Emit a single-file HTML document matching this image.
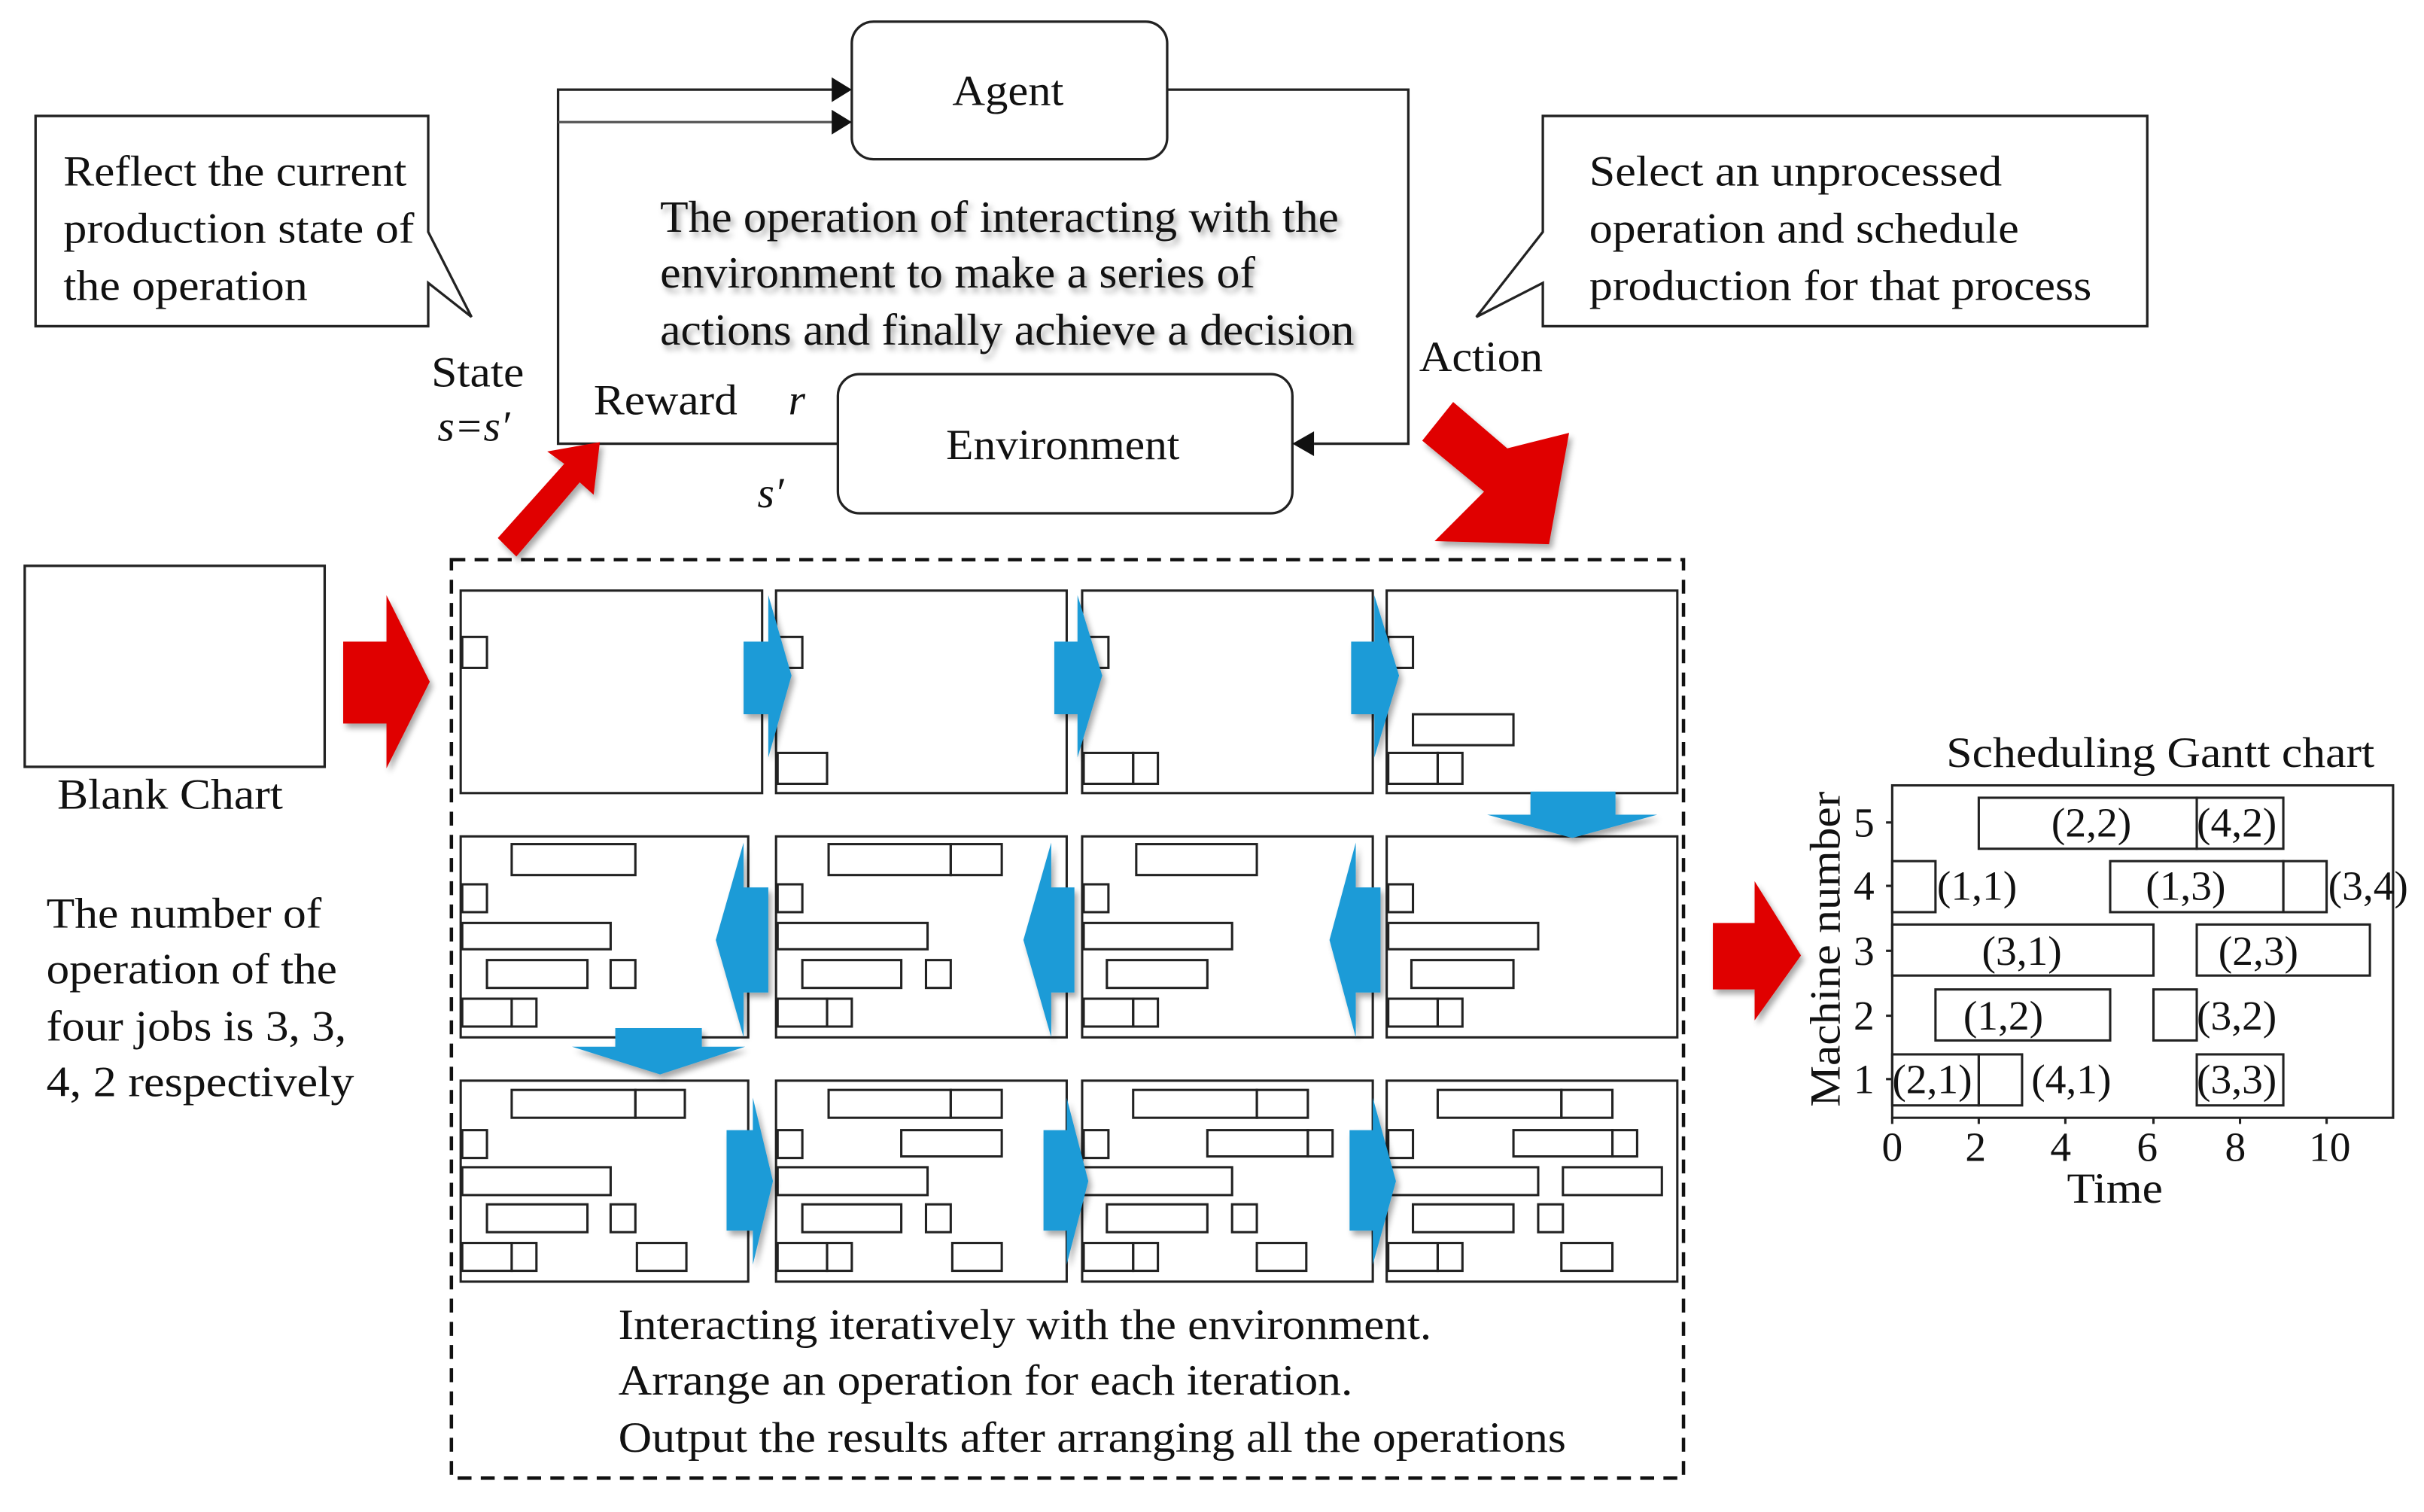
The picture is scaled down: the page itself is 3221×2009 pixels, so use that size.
<!DOCTYPE html>
<html><head><meta charset="utf-8"><style>
html,body{margin:0;padding:0;background:#fff}
svg{display:block}
text{font-family:"Liberation Serif",serif;fill:#111}
</style></head><body>
<svg width="3221" height="2009" viewBox="0 0 1568 978" preserveAspectRatio="none" xmlns="http://www.w3.org/2000/svg">
<defs>
<filter id="sh" x="-20%" y="-20%" width="140%" height="140%"><feGaussianBlur in="SourceAlpha" stdDeviation="2"/><feOffset dx="2" dy="3"/><feComponentTransfer><feFuncA type="linear" slope="0.35"/></feComponentTransfer><feMerge><feMergeNode/><feMergeNode in="SourceGraphic"/></feMerge></filter>
</defs>
<g fill="none" stroke="#222" stroke-width="1.6">
<path d="M23,75 H277 V150 L305,205 L277,183 V211 H23 Z" fill="#fff"/>
<path d="M998,75 H1389 V211 H998 V183 L955,205 L998,150 Z" fill="#fff"/>
<rect x="551" y="14" width="204" height="89" rx="14"/>
<rect x="542" y="242" width="294" height="90" rx="14"/>
<path d="M542,287 H361 V58 H540"/>
<path d="M361,79 H540" stroke="#555"/>
<path d="M755,58 H911 V287 H850"/>
</g>
<polygon points="538,50 551,58 538,66" fill="#111"/>
<polygon points="538,71 551,79 538,87" fill="#111"/>
<polygon points="850,279 836,287 850,295" fill="#111"/>
<g font-size="28" lengthAdjust="spacingAndGlyphs">
<text x="616" y="68" textLength="72" lengthAdjust="spacingAndGlyphs">Agent</text>
<text x="612" y="297" textLength="151" lengthAdjust="spacingAndGlyphs">Environment</text>
</g>
<g font-size="29" style="filter:drop-shadow(2px 3px 2px rgba(0,0,0,0.35))">
<text x="427" y="150" textLength="439" lengthAdjust="spacingAndGlyphs">The operation of interacting with the</text>
<text x="427" y="186" textLength="385" lengthAdjust="spacingAndGlyphs">environment  to make a series of</text>
<text x="427" y="223" textLength="449" lengthAdjust="spacingAndGlyphs">actions and finally achieve a decision</text>
</g>
<g font-size="28">
<text x="41" y="120" textLength="222" lengthAdjust="spacingAndGlyphs">Reflect the current</text>
<text x="41" y="157" textLength="227" lengthAdjust="spacingAndGlyphs">production state of</text>
<text x="41" y="194" textLength="158" lengthAdjust="spacingAndGlyphs">the operation</text>
<text x="1028" y="120" textLength="267" lengthAdjust="spacingAndGlyphs">Select an unprocessed</text>
<text x="1028" y="157" textLength="278" lengthAdjust="spacingAndGlyphs">operation and schedule</text>
<text x="1028" y="194" textLength="325" lengthAdjust="spacingAndGlyphs">production for that process</text>
<text x="279" y="250" textLength="60" lengthAdjust="spacingAndGlyphs">State</text>
<text x="283" y="285" font-style="italic">s=s′</text>
<text x="384" y="268" textLength="93" lengthAdjust="spacingAndGlyphs">Reward</text>
<text x="510" y="268" font-style="italic">r</text>
<text x="490" y="328" font-style="italic">s′</text>
<text x="918" y="240" textLength="80" lengthAdjust="spacingAndGlyphs">Action</text>
<text x="37" y="523" textLength="146" lengthAdjust="spacingAndGlyphs">Blank Chart</text>
<text x="30" y="600" textLength="178" lengthAdjust="spacingAndGlyphs">The number of</text>
<text x="30" y="636" textLength="188" lengthAdjust="spacingAndGlyphs">operation of the</text>
<text x="30" y="673" textLength="194" lengthAdjust="spacingAndGlyphs">four jobs is 3, 3,</text>
<text x="30" y="709" textLength="199" lengthAdjust="spacingAndGlyphs">4, 2 respectively</text>
<text x="400" y="866" textLength="526" lengthAdjust="spacingAndGlyphs">Interacting  iteratively with the  environment.</text>
<text x="400" y="902" textLength="475" lengthAdjust="spacingAndGlyphs">Arrange an operation for each iteration.</text>
<text x="400" y="939" textLength="613" lengthAdjust="spacingAndGlyphs">Output the results after arranging  all the operations</text>
<text x="1259" y="496" textLength="277" lengthAdjust="spacingAndGlyphs">Scheduling  Gantt chart</text>
<text x="1337" y="778" textLength="62" lengthAdjust="spacingAndGlyphs">Time</text>
<text transform="translate(1190,716) rotate(-90)" textLength="204" lengthAdjust="spacingAndGlyphs">Machine number</text>
</g>
<g fill="#e00000" filter="url(#sh)">
<polygon points="222,415 250,415 250,385 278,441 250,497 250,468 222,468"/>
<polygon points="1108,597 1135,597 1135,570 1165,618 1135,660 1135,640 1108,640"/>
<polygon points="322,348 365,300 354,292 388,286 384,320 375,312 334,360"/>
<polygon points="920,285 940,260 975,290 1015,280 1002,352 928,350 960,318"/>
</g>
<rect x="16" y="366" width="194" height="130" fill="none" stroke="#222" stroke-width="1.6"/>
<rect x="292" y="362" width="797" height="594" fill="none" stroke="#111" stroke-width="2.2" stroke-dasharray="9,6"/>
<g fill="none" stroke="#222" stroke-width="1.5">
<rect x="298" y="382" width="195" height="131"/>
<rect x="502" y="382" width="188" height="131"/>
<rect x="700" y="382" width="188" height="131"/>
<rect x="897" y="382" width="188" height="131"/>
<rect x="298" y="541" width="186" height="130"/>
<rect x="502" y="541" width="188" height="130"/>
<rect x="700" y="541" width="188" height="130"/>
<rect x="897" y="541" width="188" height="130"/>
<rect x="298" y="699" width="186" height="130"/>
<rect x="502" y="699" width="188" height="130"/>
<rect x="700" y="699" width="188" height="130"/>
<rect x="897" y="699" width="188" height="130"/>
<rect x="299" y="412" width="16" height="20"/>
<rect x="503" y="412" width="16" height="20"/><rect x="503" y="487" width="32" height="20"/>
<rect x="701" y="412" width="16" height="20"/><rect x="701" y="487" width="32" height="20"/><rect x="733" y="487" width="16" height="20"/>
<rect x="898" y="412" width="16" height="20"/><rect x="898" y="487" width="32" height="20"/><rect x="930" y="487" width="16" height="20"/><rect x="914" y="462" width="65" height="20"/>
<rect x="331" y="546" width="80" height="20"/><rect x="299" y="572" width="16" height="18"/><rect x="299" y="597" width="96" height="17"/><rect x="315" y="621" width="65" height="18"/><rect x="395" y="621" width="16" height="18"/><rect x="299" y="646" width="32" height="18"/><rect x="331" y="646" width="16" height="18"/>
<rect x="536" y="546" width="79" height="20"/><rect x="615" y="546" width="33" height="20"/><rect x="503" y="572" width="16" height="18"/><rect x="503" y="597" width="97" height="17"/><rect x="519" y="621" width="64" height="18"/><rect x="599" y="621" width="16" height="18"/><rect x="503" y="646" width="32" height="18"/><rect x="535" y="646" width="16" height="18"/>
<rect x="735" y="546" width="78" height="20"/><rect x="701" y="572" width="16" height="18"/><rect x="701" y="597" width="96" height="17"/><rect x="716" y="621" width="65" height="18"/><rect x="701" y="646" width="32" height="18"/><rect x="733" y="646" width="16" height="18"/>
<rect x="898" y="572" width="16" height="18"/><rect x="898" y="597" width="97" height="17"/><rect x="913" y="621" width="66" height="18"/><rect x="898" y="646" width="32" height="18"/><rect x="930" y="646" width="16" height="18"/>
<rect x="331" y="705" width="80" height="18"/><rect x="411" y="705" width="32" height="18"/><rect x="299" y="731" width="16" height="18"/><rect x="299" y="755" width="96" height="18"/><rect x="315" y="779" width="65" height="18"/><rect x="395" y="779" width="16" height="18"/><rect x="299" y="804" width="32" height="18"/><rect x="331" y="804" width="16" height="18"/><rect x="412" y="804" width="32" height="18"/>
<rect x="536" y="705" width="79" height="18"/><rect x="615" y="705" width="33" height="18"/><rect x="503" y="731" width="16" height="18"/><rect x="583" y="731" width="65" height="17"/><rect x="503" y="755" width="97" height="18"/><rect x="519" y="779" width="64" height="18"/><rect x="599" y="779" width="16" height="18"/><rect x="503" y="804" width="32" height="18"/><rect x="535" y="804" width="16" height="18"/><rect x="616" y="804" width="32" height="18"/>
<rect x="733" y="705" width="80" height="18"/><rect x="813" y="705" width="33" height="18"/><rect x="701" y="731" width="16" height="18"/><rect x="781" y="731" width="65" height="17"/><rect x="846" y="731" width="16" height="17"/><rect x="701" y="755" width="96" height="18"/><rect x="716" y="779" width="65" height="18"/><rect x="797" y="779" width="16" height="18"/><rect x="701" y="804" width="32" height="18"/><rect x="733" y="804" width="16" height="18"/><rect x="813" y="804" width="32" height="18"/>
<rect x="930" y="705" width="80" height="18"/><rect x="1010" y="705" width="33" height="18"/><rect x="898" y="731" width="16" height="18"/><rect x="979" y="731" width="64" height="17"/><rect x="1043" y="731" width="16" height="17"/><rect x="898" y="755" width="97" height="18"/><rect x="1011" y="755" width="64" height="18"/><rect x="914" y="779" width="65" height="18"/><rect x="995" y="779" width="16" height="18"/><rect x="898" y="804" width="32" height="18"/><rect x="930" y="804" width="16" height="18"/><rect x="1010" y="804" width="33" height="18"/>
</g>
<g fill="#1e9bd7" filter="url(#sh)">
<polygon points="481,415 497,415 497,385 512,437 497,490 497,462 481,462"/>
<polygon points="682,415 697,415 697,385 713,437 697,490 697,462 682,462"/>
<polygon points="874,415 889,415 889,385 905,437 889,490 889,462 874,462"/>
<polygon points="990,512 1045,512 1045,527 1072,527 1017,542 962,527 990,527"/>
<polygon points="497,574 481,574 481,545 463,608 481,671 481,642 497,642"/>
<polygon points="695,574 680,574 680,545 662,608 680,671 680,642 695,642"/>
<polygon points="893,574 877,574 877,545 860,608 877,671 877,642 893,642"/>
<polygon points="398,665 454,665 454,677 482,677 427,695 370,677 398,677"/>
<polygon points="470,731 487,731 487,710 500,764 487,818 487,796 470,796"/>
<polygon points="675,731 690,731 690,710 704,764 690,818 690,796 675,796"/>
<polygon points="873,731 888,731 888,710 903,764 888,818 888,796 873,796"/>
</g>
<g fill="none" stroke="#222" stroke-width="1.5">
<rect x="1224" y="508" width="324" height="215"/>
<rect x="1280" y="516" width="141" height="33"/><rect x="1421" y="516" width="56" height="33"/>
<rect x="1224" y="557" width="28" height="33"/><rect x="1365" y="557" width="112" height="33"/><rect x="1477" y="557" width="28" height="33"/>
<rect x="1224" y="598" width="169" height="33"/><rect x="1421" y="598" width="112" height="33"/>
<rect x="1252" y="640" width="113" height="33"/><rect x="1393" y="640" width="28" height="33"/>
<rect x="1224" y="682" width="56" height="33"/><rect x="1280" y="682" width="28" height="33"/><rect x="1421" y="682" width="56" height="33"/>
<path d="M1220,532 H1224 M1220,573 H1224 M1220,615 H1224 M1220,657 H1224 M1220,698 H1224 M1224,723 V727 M1280,723 V727 M1336,723 V727 M1393,723 V727 M1449,723 V727 M1505,723 V727"/>
</g>
<g font-size="27">
<text x="1199" y="541">5</text><text x="1199" y="582">4</text><text x="1199" y="624">3</text><text x="1199" y="666">2</text><text x="1199" y="707">1</text>
<g text-anchor="middle"><text x="1224" y="751">0</text><text x="1278" y="751">2</text><text x="1333" y="751">4</text><text x="1389" y="751">6</text><text x="1446" y="751">8</text><text x="1507" y="751">10</text></g>
<text x="1327" y="541">(2,2)</text><text x="1421" y="541">(4,2)</text>
<text x="1253" y="582">(1,1)</text><text x="1388" y="582">(1,3)</text><text x="1506" y="582">(3,4)</text>
<text x="1282" y="624">(3,1)</text><text x="1435" y="624">(2,3)</text>
<text x="1270" y="666">(1,2)</text><text x="1421" y="666">(3,2)</text>
<text x="1224" y="707">(2,1)</text><text x="1314" y="707">(4,1)</text><text x="1421" y="707">(3,3)</text>
</g>
</svg>
</body></html>
